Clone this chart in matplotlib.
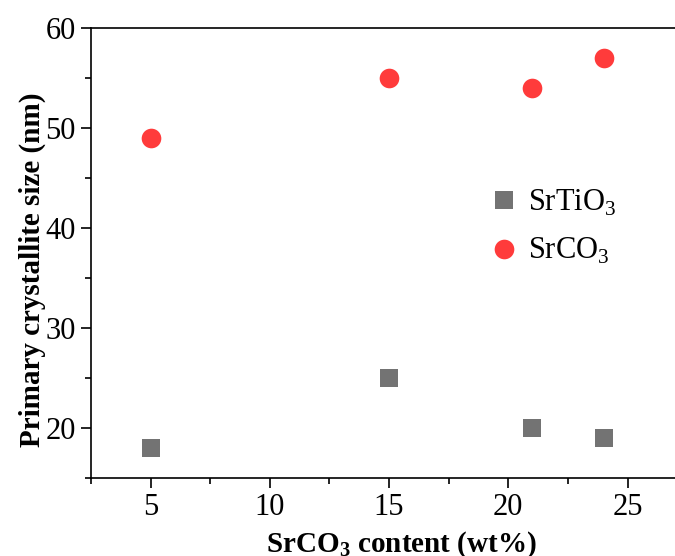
import matplotlib
matplotlib.use("Agg")
import matplotlib.pyplot as plt
from matplotlib.ticker import MultipleLocator

plt.rcParams['font.family'] = ['Liberation Serif', 'DejaVu Serif']
plt.rcParams['mathtext.fontset'] = 'custom'
plt.rcParams['mathtext.rm'] = 'Liberation Serif'
plt.rcParams['mathtext.bf'] = 'Liberation Serif:bold'

content = [5, 15, 21, 24]
srtio3_size = [18, 25, 20, 19]
srco3_size = [49, 55, 54, 57]
series_labels = ["SrTiO$_3$", "SrCO$_3$"]

fig = plt.figure(figsize=(6.75, 5.56), dpi=100)
ax = fig.add_axes([91 / 675, 1 - 478 / 556, 620 / 675, 450 / 556])

ax.scatter(content, srtio3_size, marker='s', s=150, color='#737373',
           linewidths=0, label=series_labels[0], zorder=3)
ax.scatter(content, srco3_size, marker='o', s=200, color='#FF3B3B',
           linewidths=0, label=series_labels[1], zorder=3)

ax.set_xlim(2.5, 28.5)
ax.set_ylim(15, 60)
ax.xaxis.set_major_locator(MultipleLocator(5))
ax.xaxis.set_minor_locator(MultipleLocator(2.5))
ax.yaxis.set_major_locator(MultipleLocator(10))
ax.yaxis.set_minor_locator(MultipleLocator(5))
ax.tick_params(axis='both', which='major', direction='out', length=7,
               width=1.2, labelsize=22, pad=4)
ax.tick_params(axis='both', which='minor', direction='out', length=4, width=1.2)
ax.tick_params(axis='x', top=False)
for sp in ax.spines.values():
    sp.set_linewidth(1.2)

ax.set_xlabel("SrCO$_\\mathbf{3}$ content (wt%)", fontsize=21, fontweight='bold',
              labelpad=5)
ax.set_ylabel("Primary crystallite size (nm)", fontsize=21, fontweight='bold')
ax.yaxis.set_label_coords(-0.072, 0.462)

ax.legend(loc='upper left', bbox_to_anchor=(0.621, 0.672), frameon=False,
          fontsize=22, handletextpad=0.3, labelspacing=0.6,
          borderaxespad=0, handlelength=1.0, scatteryoffsets=[0.5])

fig.savefig("out.png", dpi=100)
